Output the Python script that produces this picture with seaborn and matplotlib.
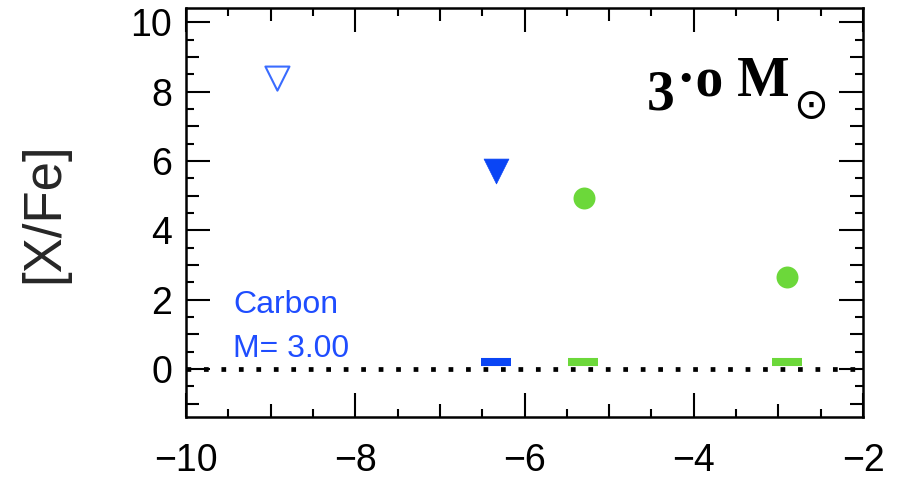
import matplotlib
matplotlib.use("Agg")
import matplotlib.pyplot as plt
import seaborn as sns
from matplotlib.ticker import MultipleLocator, FuncFormatter

sns.set_theme(style="ticks")
plt.rcParams['font.family'] = ['Liberation Sans', 'DejaVu Sans']

# data
open_tri_x = [-8.92]
open_tri_y = [8.38]
filled_tri_x = [-6.34]
filled_tri_y = [5.71]
circle_x = [-5.30, -2.90]
circle_y = [4.93, 2.65]
blue_bar_x = [-6.34]
blue_bar_y = [0.20]
green_bar_x = [-5.31, -2.90]
green_bar_y = [0.20, 0.20]

x_limits = (-10, -2)
y_limits = (-1.39, 10.42)

BLUE = "#0a45f5"
LBLUE = "#3a6cff"
GREEN = "#6cd83a"
TXTBLUE = "#1f4dff"

fig = plt.figure(figsize=(8.97, 4.79), dpi=100)
ax = fig.add_axes([0.2074, 0.1294, 0.7547, 0.854])

ax.axhline(0, color="black", lw=3.4, ls=(0, (1, 2.7)), dash_capstyle="butt", zorder=1)

sns.scatterplot(x=open_tri_x, y=open_tri_y, marker="v", s=300, facecolor="none",
                edgecolor=LBLUE, linewidth=1.5, ax=ax, zorder=3)
sns.scatterplot(x=filled_tri_x, y=filled_tri_y, marker="v", s=320, color=BLUE,
                edgecolor=BLUE, linewidth=0.5, ax=ax, zorder=3)
sns.scatterplot(x=circle_x, y=circle_y, marker="o", s=250, color=GREEN,
                edgecolor=GREEN, linewidth=0, ax=ax, zorder=3)
sns.scatterplot(x=blue_bar_x, y=blue_bar_y, marker="_", s=460, color=BLUE,
                linewidth=5.8, ax=ax, zorder=3)
sns.scatterplot(x=green_bar_x, y=green_bar_y, marker="_", s=460, color=GREEN,
                linewidth=5.8, ax=ax, zorder=3)

ax.set_xlim(*x_limits)
ax.set_ylim(*y_limits)


def lab(v, p):
    r = int(round(v))
    if r % 2 != 0:
        return ""
    return f"\u2212{abs(r)}" if r < 0 else f"{r}"


for axis in (ax.xaxis, ax.yaxis):
    axis.set_major_locator(MultipleLocator(1))
    axis.set_minor_locator(MultipleLocator(0.5))
    axis.set_major_formatter(FuncFormatter(lab))

ax.tick_params(which="both", direction="in", top=True, right=True, colors="black",
               labelsize=27)
ax.tick_params(axis="y", pad=10)
ax.tick_params(axis="x", pad=19)
ax.tick_params(which="major", length=17, width=1.5)
ax.tick_params(which="minor", length=5.8, width=1.5)
for s in ax.spines.values():
    s.set_linewidth(1.8)
    s.set_color("black")

# medium-length ticks at odd integers
for axis in (ax.xaxis, ax.yaxis):
    locs = axis.get_majorticklocs()
    for t, v in zip(axis.get_major_ticks(), locs):
        if int(round(v)) % 2 != 0:
            t.tick1line.set_markersize(9.4)
            t.tick2line.set_markersize(9.4)

ax.set_ylabel("[X/Fe]", fontsize=38)
ax.yaxis.set_label_coords(-0.172, 0.50)

ax.text(-9.44, 1.62, "Carbon", color=TXTBLUE, fontsize=23, ha="left", va="baseline")
ax.text(-9.44, 0.35, "M= 3.00", color=TXTBLUE, fontsize=23, ha="left", va="baseline")

serif = ["Liberation Serif", "DejaVu Serif"]
ax.text(-4.56, 7.48, "3", fontsize=40, fontweight="bold", family=serif,
        color="black", ha="left", va="baseline")
ax.text(-4.20, 7.88, "\u00b7o M", fontsize=40, fontweight="bold", family=serif,
        color="black", ha="left", va="baseline")
ax.text(-2.624, 7.59, "\u2299", fontsize=30, family=["DejaVu Sans"],
        color="black", ha="center", va="center")

fig.savefig("out.png", dpi=100)
